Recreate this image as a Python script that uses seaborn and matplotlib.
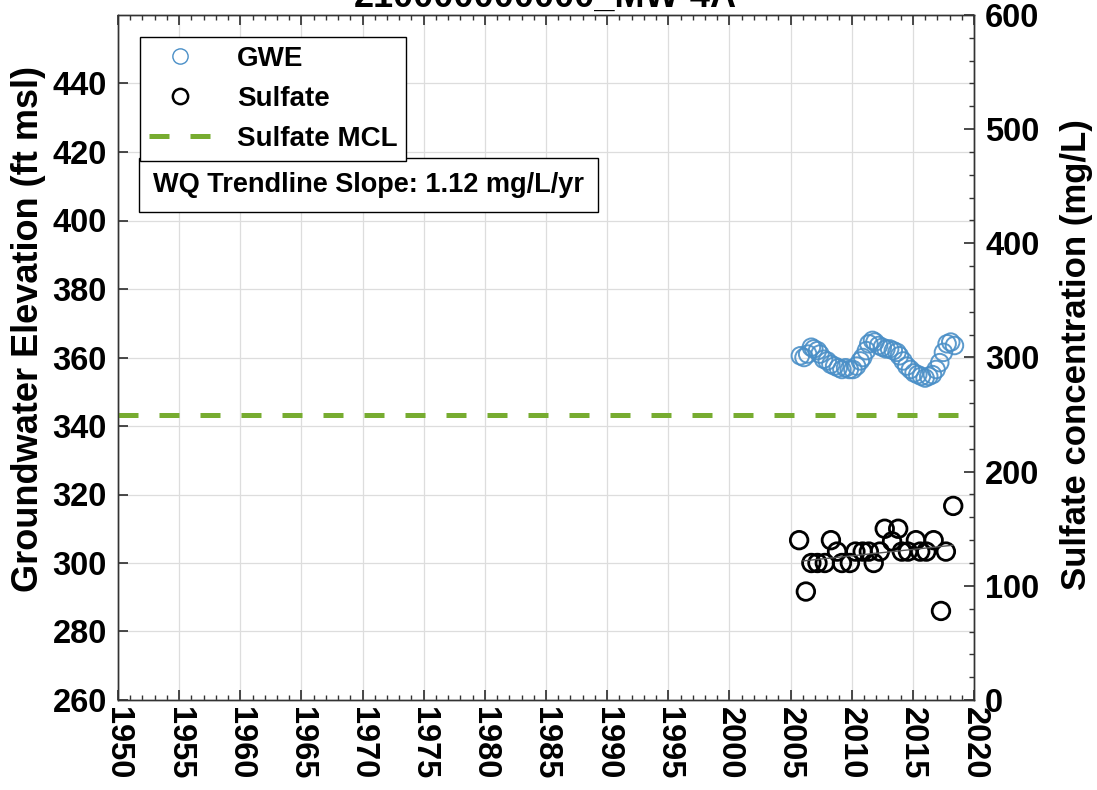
import numpy as np
import pandas as pd
import matplotlib
matplotlib.use("Agg")
import matplotlib.pyplot as plt
from matplotlib.lines import Line2D
from matplotlib.ticker import MultipleLocator
import seaborn as sns

# ---- data ----
title_text = "210000000000_MW-4A"
gwe_years = [2005.8, 2006.1, 2006.4, 2006.7, 2006.9, 2007.2, 2007.4, 2007.7, 2008.0, 2008.3,
             2008.6, 2008.9, 2009.2, 2009.5, 2009.8, 2010.1, 2010.4, 2010.7, 2010.9, 2011.2,
             2011.4, 2011.7, 2011.9, 2012.2, 2012.5, 2012.8, 2013.1, 2013.4, 2013.7, 2013.9,
             2014.2, 2014.5, 2014.8, 2015.1, 2015.4, 2015.7, 2016.0, 2016.3, 2016.6, 2016.9,
             2017.2, 2017.5, 2017.8, 2018.1, 2018.4]
gwe_values = [360.5, 360.0, 361.0, 363.0, 362.5, 362.0, 361.0, 359.5, 359.0, 358.0,
              357.5, 357.0, 356.5, 357.0, 356.5, 356.5, 357.5, 359.0, 360.0, 362.0,
              364.0, 365.0, 364.5, 363.5, 363.0, 362.5, 362.5, 362.0, 361.5, 360.5,
              359.0, 357.5, 356.5, 355.5, 355.0, 354.5, 354.0, 354.5, 355.0, 356.5,
              358.5, 361.5, 364.0, 364.5, 363.5]
so4_years = [2005.7, 2006.25, 2006.7, 2007.2, 2007.8, 2008.3, 2008.8, 2009.2, 2009.85, 2010.3,
             2010.9, 2011.4, 2011.8, 2012.3, 2012.7, 2013.3, 2013.8, 2014.1, 2014.6, 2015.25,
             2015.6, 2016.1, 2016.7, 2017.3, 2017.7, 2018.3]
so4_values = [140, 95, 120, 120, 120, 140, 130, 120, 120, 130,
              130, 130, 120, 130, 150, 139, 150, 130, 130, 140,
              130, 130, 140, 78, 130, 170]
trend_years = [2006.0, 2018.3]
trend_values = [121.8, 135.6]
mcl_value = 250
x_ticks = list(range(1950, 2021, 5))
left_ticks = list(range(260, 441, 20))
right_ticks = list(range(0, 601, 100))
slope_text = "WQ Trendline Slope: 1.12 mg/L/yr"

gwe_df = pd.DataFrame({"year": gwe_years, "gwe": gwe_values})
so4_df = pd.DataFrame({"year": so4_years, "so4": so4_values})
trend_df = pd.DataFrame({"year": trend_years, "so4": trend_values})

sns.set_theme(style="white")
plt.rcParams['font.family'] = ['Liberation Sans', 'DejaVu Sans']
plt.rcParams['font.weight'] = 'bold'
plt.rcParams['text.color'] = 'black'
plt.rcParams['axes.labelcolor'] = 'black'
plt.rcParams['xtick.color'] = 'black'
plt.rcParams['ytick.color'] = 'black'

fig = plt.figure(figsize=(10.97, 7.9), dpi=100)
ax = fig.add_axes([118/1097, 1-700/790, (974-118)/1097, (700-15)/790])
ax2 = ax.twinx()

blue = '#4a8fc7'
green = '#77AC30'
dash = (0, (4.0, 4.2))

sns.scatterplot(data=gwe_df, x="year", y="gwe", ax=ax, marker='o', s=160,
                facecolor='none', edgecolor=blue, linewidth=1.4, alpha=0.9, legend=False)
sns.lineplot(data=trend_df, x="year", y="so4", ax=ax2, color='#555555', linewidth=1.0, legend=False)
sns.scatterplot(data=so4_df, x="year", y="so4", ax=ax2, marker='o', s=160,
                facecolor='none', edgecolor='black', linewidth=2.0, legend=False)
ax2.axhline(mcl_value, color=green, linestyle=dash, linewidth=3.6)

fs = 23.5
ax.set_xlim(1950, 2020)
ax.set_ylim(260, 460)
ax2.set_ylim(0, 600)
ax.set_xticks(x_ticks)
ax.set_xticklabels([str(t) for t in x_ticks], rotation=-90, fontsize=fs, fontweight='bold')
ax.set_yticks(left_ticks)
ax.set_yticklabels([str(t) for t in left_ticks], fontsize=fs, fontweight='bold')
ax2.set_yticks(right_ticks)
ax2.set_yticklabels([str(t) for t in right_ticks], fontsize=fs, fontweight='bold')
ax.xaxis.set_minor_locator(MultipleLocator(1))
ax2.yaxis.set_minor_locator(MultipleLocator(20))

ax.set_xlabel("")
ax.set_ylabel("Groundwater Elevation (ft msl)", fontsize=26, fontweight='bold')
ax.yaxis.set_label_coords((46-118)/856, 1-(328.5-15)/685)
ax2.set_ylabel("Sulfate concentration (mg/L)", fontsize=25, fontweight='bold')
ax2.yaxis.set_label_coords((1060-118)/856, 1-(355-15)/685)

ax.grid(True, which='major', color='#dddddd', linewidth=0.9)
ax.set_axisbelow(True)
for a in (ax, ax2):
    for sp in a.spines.values():
        sp.set_color('#333333')
        sp.set_linewidth(1.0)
ax.tick_params(axis='x', which='both', direction='in', top=True, bottom=True, pad=5, color='#333333')
ax.tick_params(axis='x', which='major', length=7)
ax.tick_params(axis='x', which='minor', length=3.5)
ax.tick_params(axis='y', which='major', direction='in', length=7, left=True, right=False, pad=8, color='#333333')
ax2.tick_params(axis='y', which='major', direction='in', length=7, right=True, pad=8, color='#333333')
ax2.tick_params(axis='y', which='minor', direction='in', length=3.5, right=True, color='#333333')

handles = [
    Line2D([], [], linestyle='none', marker='o', markersize=11, markerfacecolor='none',
           markeredgecolor=blue, markeredgewidth=1.0),
    Line2D([], [], linestyle='none', marker='o', markersize=11, markerfacecolor='none',
           markeredgecolor='black', markeredgewidth=1.8),
    Line2D([], [], color=green, linestyle=dash, linewidth=3.6),
]
leg = ax2.legend(handles, ["GWE", "Sulfate", "Sulfate MCL"], loc='upper left',
                 bbox_to_anchor=((140-118)/856, 1-(37-15)/685), borderaxespad=0,
                 prop={'size': 20, 'weight': 'bold'}, fancybox=False, framealpha=1,
                 edgecolor='black', handlelength=2.2, labelspacing=0.5, borderpad=0.33,
                 handletextpad=0.95)
leg.get_frame().set_linewidth(1.0)

ax2.text((153-118)/856, 1-(185-15)/685, slope_text, transform=ax2.transAxes,
         fontsize=19.5, fontweight='bold', va='center', ha='left',
         bbox=dict(boxstyle='square,pad=0.5', facecolor='white', edgecolor='black', linewidth=1.0))

fig.text(545/1097, 1-7/790, title_text, ha='center', va='baseline', fontsize=26, fontweight='bold')

fig.savefig("out.png", dpi=100)
